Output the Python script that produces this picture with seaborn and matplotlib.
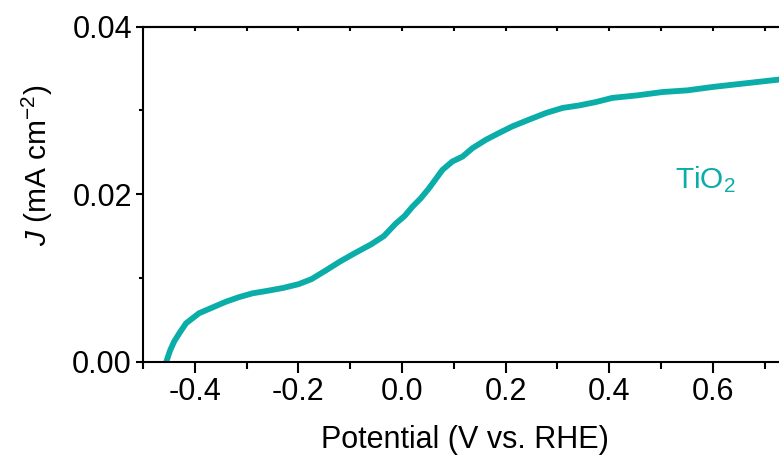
import pandas as pd
import matplotlib.pyplot as plt
import seaborn as sns
from matplotlib.ticker import MultipleLocator

# values
potential = [-0.455, -0.448, -0.440, -0.430, -0.417, -0.392, -0.365, -0.340, -0.315,
             -0.289, -0.260, -0.230, -0.200, -0.175, -0.147, -0.120, -0.090, -0.060,
             -0.035, -0.012, 0.005, 0.020, 0.036, 0.052, 0.065, 0.078, 0.097, 0.117,
             0.136, 0.162, 0.187, 0.213, 0.245, 0.278, 0.310, 0.342, 0.374, 0.406,
             0.454, 0.503, 0.551, 0.599, 0.657, 0.715, 0.730]
current = [0.0000, 0.0013, 0.0024, 0.00339, 0.00458, 0.00578, 0.00650, 0.00716, 0.00770,
           0.00816, 0.00846, 0.00880, 0.00925, 0.00985, 0.01090, 0.01195, 0.01300, 0.01400,
           0.01500, 0.01650, 0.01740, 0.01850, 0.01950, 0.02070, 0.02180, 0.02290, 0.02390,
           0.02450, 0.02550, 0.02650, 0.02730, 0.02810, 0.02890, 0.02970, 0.03030, 0.03060,
           0.03100, 0.03150, 0.03180, 0.03220, 0.03240, 0.03280, 0.03320, 0.03360, 0.03370]
series_label = "TiO$_2$"
line_color = "#0AADA8"

df = pd.DataFrame({"Potential": potential, "J": current})

sns.set_theme(style="ticks")
plt.rcParams['font.family'] = ['Liberation Sans', 'DejaVu Sans']
plt.rcParams['mathtext.fontset'] = 'custom'
plt.rcParams['mathtext.rm'] = 'Liberation Sans'
plt.rcParams['mathtext.it'] = 'Liberation Sans:italic'

fig = plt.figure(figsize=(7.79, 4.58), dpi=100)
ax_w = 0.931
ax = fig.add_axes([0.1836, 0.2103, ax_w, 0.7314])

sns.lineplot(data=df, x="Potential", y="J", color=line_color, linewidth=4.2, ax=ax)

ax.set_xlim(-0.5, 0.9)
ax.set_ylim(0, 0.04)
ax.xaxis.set_minor_locator(MultipleLocator(0.1))
ax.yaxis.set_minor_locator(MultipleLocator(0.01))
ax.set_xticks([-0.4, -0.2, 0.0, 0.2, 0.4, 0.6])
ax.set_xticklabels(["-0.4", "-0.2", "0.0", "0.2", "0.4", "0.6"])
ax.set_yticks([0.0, 0.02, 0.04])
ax.set_yticklabels(["0.00", "0.02", "0.04"])

for s in ax.spines.values():
    s.set_linewidth(1.5)
    s.set_color("black")

ax.tick_params(axis="both", which="major", labelsize=22, width=1.5, color="black",
               labelcolor="black", pad=3)
ax.tick_params(axis="x", which="major", direction="out", length=8)
ax.tick_params(axis="x", which="minor", direction="out", length=5, width=1.5, color="black")
ax.tick_params(axis="y", which="major", direction="out", length=5)
ax.tick_params(axis="y", which="minor", direction="out", length=3, width=1.5, color="black")

# short inward ticks on the top frame
top = ax.secondary_xaxis("top")
top.set_xticks([-0.4, -0.2, 0.0, 0.2, 0.4, 0.6, 0.8])
top.xaxis.set_minor_locator(MultipleLocator(0.1))
top.tick_params(axis="x", which="both", direction="in", length=3, width=1.5,
                color="black", labeltop=False)
top.spines["top"].set_linewidth(1.5)

ax.set_xlabel("Potential (V vs. RHE)", fontsize=22, color="black")
ax.set_ylabel("$J$ (mA cm$^{-2}$)", fontsize=21.5, color="black")
ax.xaxis.set_label_coords((465 - 143) / (ax_w * 779), -0.235)
ax.xaxis.label.set_va("center")
ax.yaxis.set_label_coords((37 - 143) / (ax_w * 779), 0.585)
ax.yaxis.label.set_va("center")

ax.text(0.585, 0.0217, series_label, color=line_color, fontsize=21.5,
        ha="center", va="center")

fig.savefig("out.png", dpi=100)
